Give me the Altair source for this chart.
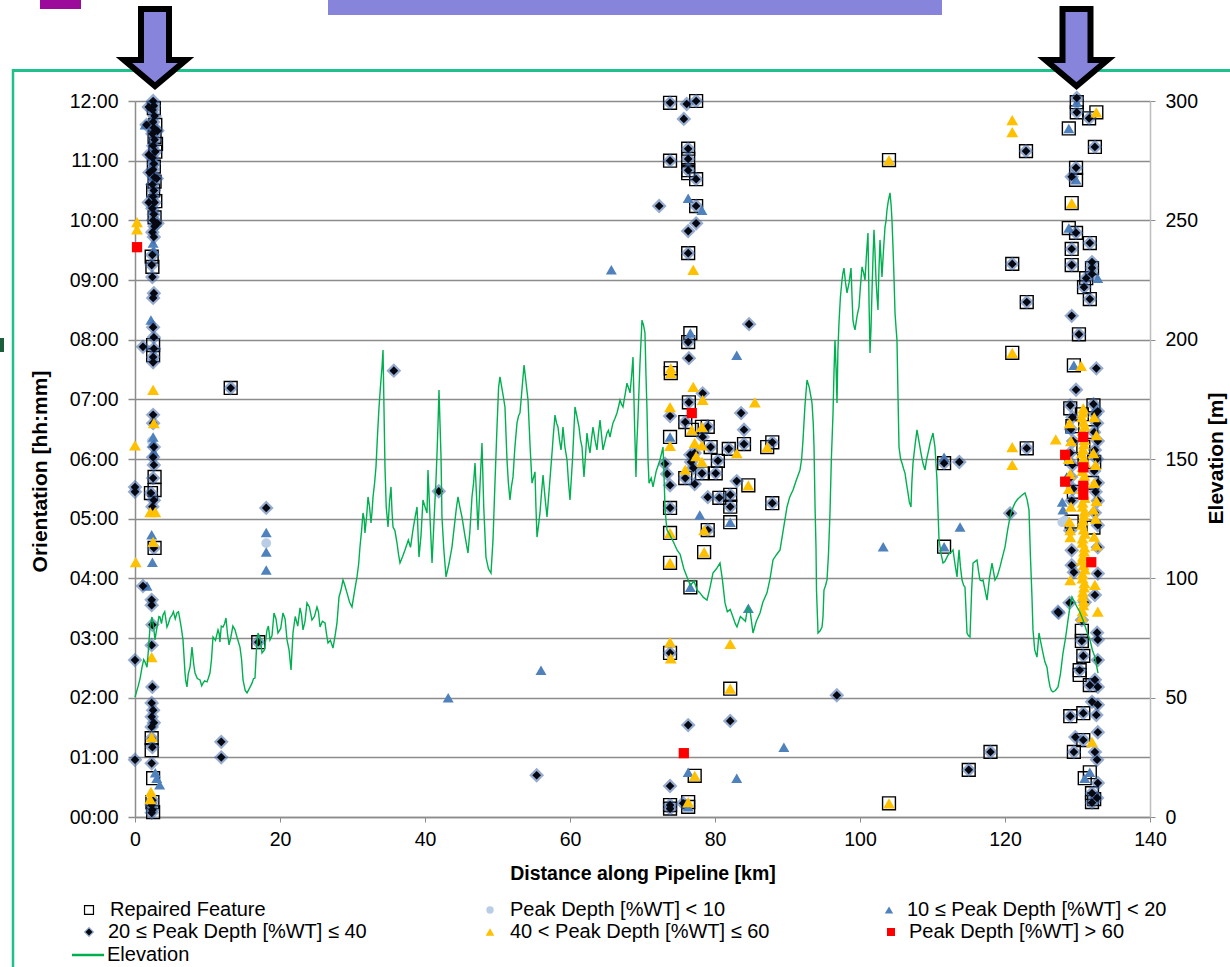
import altair as alt
import pandas as pd

FONT = "Liberation Sans"

# ---------------- data ----------------
# elevation profile, main trace (km, m)
elev_km = [
    0.0, 0.41, 0.97, 1.38, 1.66, 2.07, 2.34, 2.76, 3.17, 3.45,
    3.86, 4.41, 4.83, 5.10, 5.79, 6.21, 6.62, 6.90, 7.17, 7.59,
    7.86, 8.28, 8.97, 9.38, 9.93, 10.34, 10.76, 11.45, 11.72, 12.14,
    12.55, 12.97, 13.79, 14.48, 14.90, 15.45, 16.14, 16.55, 16.97, 17.52,
    18.21, 18.62, 19.17, 19.72, 20.41, 20.97, 21.52, 21.79, 22.76, 23.17,
    23.72, 24.41, 25.10, 25.52, 26.21, 26.62, 27.31, 27.86, 28.14, 28.69,
    29.24, 29.93, 30.62, 31.03, 31.45, 31.72, 32.14, 32.55, 32.83, 33.24,
    33.66, 34.07, 34.21, 34.48, 34.90, 35.31, 35.59, 36.14, 36.55, 37.24,
    38.34, 38.90, 39.17, 39.72, 40.28, 40.41, 40.97, 41.38, 41.66, 41.93,
    42.21, 42.34, 42.90, 43.72, 44.14, 44.55, 45.10, 45.93, 46.48, 46.90,
    47.31, 47.86, 48.41, 49.10, 49.38, 49.93, 50.34, 51.03, 51.31, 51.72,
    52.14, 52.69, 53.10, 53.66, 54.21, 54.76, 55.17, 55.45, 55.86, 56.28,
    56.83, 57.52, 57.93, 58.34, 58.76, 59.03, 59.59, 60.00, 60.69, 61.24,
    61.66, 61.93, 62.34, 62.76, 63.17, 63.72, 64.14, 64.55, 65.10, 65.52,
    65.93, 66.48, 66.90, 67.31, 67.86, 68.28, 68.69, 69.10, 69.38, 69.93,
    70.34, 70.62, 70.90, 71.45, 72.41, 72.83, 73.10, 73.38, 74.76, 76.14,
    77.52, 78.90, 79.72, 80.69, 81.38, 82.48, 83.03, 84.83, 85.24, 86.21,
    87.17, 88.00, 88.97, 89.93, 90.76, 91.72, 92.14, 92.69, 93.38, 93.66,
    93.93, 94.21, 94.76, 95.03, 95.45, 95.86, 96.28, 96.55, 96.83, 97.10,
    97.52, 97.79, 98.21, 98.76, 99.03, 99.31, 99.86, 100.28, 100.69, 101.10,
    101.38, 101.66, 101.93, 102.21, 102.48, 102.76, 103.03, 103.45, 103.72, 104.14,
    104.41, 104.55, 104.83, 105.10, 105.38, 105.79, 106.21, 106.62, 107.03, 107.31,
    107.86, 108.41, 108.97, 109.38, 110.07, 110.34, 110.62, 110.90, 111.45, 112.00,
    112.41, 112.83, 113.38, 113.66, 114.07, 114.48, 114.76, 115.17, 115.59, 116.14,
    116.55, 116.97, 117.52, 118.21, 118.62, 119.31, 120.00, 120.69, 121.38, 122.07,
    122.76, 123.31, 123.72, 123.86, 124.41, 124.69, 125.24, 125.79, 126.21, 126.62,
    127.31, 128.00, 128.69, 129.24, 129.93, 130.76, 131.72, 132.41, 132.83,
]
elev_m = [
    50.3, 54.5, 62.8, 64.9, 62.8, 79.6, 83.8, 74.2, 81.7, 83.8,
    84.6, 79.6, 83.4, 84.6, 85.5, 82.5, 74.2, 60.3, 54.5, 62.8,
    71.2, 60.3, 57.4, 56.1, 56.6, 60.3, 75.4, 78.4, 73.3, 79.6,
    83.4, 72.1, 78.4, 71.2, 57.4, 52.0, 56.1, 58.2, 77.1, 68.7,
    78.4, 74.2, 85.5, 77.1, 85.5, 74.2, 61.6, 77.1, 87.6, 78.4,
    89.7, 82.5, 88.0, 79.6, 81.3, 72.9, 70.8, 81.3, 92.2, 99.3,
    93.9, 88.0, 100.6, 113.1, 127.4, 119.0, 134.1, 123.2, 134.1, 146.7,
    171.8, 188.6, 195.7, 146.7, 121.5, 138.3, 121.5, 114.8, 106.4, 111.9,
    120.3, 129.9, 108.9, 132.8, 127.4, 145.4, 106.4, 132.8, 152.5, 178.9,
    150.8, 125.7, 100.6, 113.1, 124.4, 134.1, 125.7, 110.6, 134.1, 148.3,
    120.3, 156.7, 108.9, 102.2, 116.1, 163.4, 184.4, 171.8, 149.6, 132.8,
    142.5, 165.1, 169.3, 189.4, 174.7, 139.9, 144.6, 117.3, 127.4, 143.3,
    125.7, 152.5, 168.4, 163.4, 153.8, 163.4, 149.6, 132.8, 171.8, 163.4,
    155.0, 142.5, 160.9, 152.5, 163.4, 153.8, 166.3, 153.8, 160.9, 159.2,
    165.1, 169.3, 174.7, 171.8, 181.8, 177.7, 192.7, 142.5, 167.6, 208.2,
    202.8, 170.5, 139.9, 138.3, 149.6, 155.0, 129.9, 120.3, 111.9, 100.6,
    95.1, 90.9, 102.2, 106.4, 89.7, 83.8, 79.6, 86.7, 77.1, 85.5,
    93.9, 107.7, 111.9, 129.9, 137.0, 145.4, 158.0, 183.1, 173.5, 155.0,
    113.1, 77.1, 79.6, 95.1, 99.3, 127.4, 169.3, 199.9, 173.5, 207.0,
    225.0, 230.0, 219.6, 230.0, 208.2, 204.1, 213.7, 230.5, 225.0, 244.7,
    194.4, 220.8, 246.0, 225.0, 212.4, 241.8, 226.3, 247.2, 254.3, 261.5,
    250.1, 238.8, 211.2, 199.9, 155.0, 148.3, 144.1, 135.8, 129.9, 148.3,
    162.2, 152.5, 145.4, 152.5, 160.9, 155.0, 141.2, 116.1, 106.4, 108.9,
    110.6, 111.9, 100.6, 111.9, 99.3, 96.4, 77.1, 75.4, 106.4, 107.7,
    99.3, 99.3, 90.9, 106.4, 99.3, 104.8, 113.1, 125.7, 131.6, 134.1,
    135.8, 128.6, 92.2, 78.4, 67.0, 77.1, 68.7, 62.8, 54.5, 52.4,
    54.5, 68.7, 82.5, 92.2, 88.0, 82.5, 74.2, 67.0, 60.3,
]
# extra short-wavelength wiggles read between the main trace points (km, m)
elev_detail = [
    (0.7, 58), (1.2, 66), (1.85, 70), (2.55, 80), (2.95, 78), (3.3, 84), (3.65, 81), (4.1, 86),
    (4.6, 81), (5.3, 86), (5.55, 83), (6.0, 86), (6.4, 79), (7.0, 57), (7.35, 60), (7.7, 66),
    (8.1, 64), (8.6, 58), (9.2, 55), (9.6, 57), (10.1, 58), (10.55, 66), (11.1, 74), (11.6, 77),
    (11.9, 80), (12.35, 81), (12.75, 77), (13.2, 75), (13.5, 80), (14.1, 75), (14.7, 66),
    (15.2, 53), (15.8, 54), (16.35, 58), (16.75, 70), (17.25, 75), (17.85, 70), (18.4, 80),
    (18.9, 76), (19.45, 83), (20.1, 79), (20.7, 83), (21.25, 70), (22.1, 84), (22.45, 80),
    (22.95, 85), (23.45, 82), (24.05, 88), (24.75, 84), (25.3, 86), (25.85, 82), (26.4, 77),
    (26.95, 74), (27.6, 76), (28.4, 95), (28.95, 97), (29.6, 90), (30.3, 95), (30.85, 106),
    (31.25, 120), (31.6, 125), (31.95, 126), (32.35, 130), (32.7, 128), (33.05, 140),
    (33.45, 160), (33.85, 180), (34.35, 170), (34.65, 130), (35.1, 132), (35.45, 128),
    (35.85, 120), (36.35, 110), (36.9, 109), (37.7, 116), (38.0, 113), (38.6, 125), (39.45, 118),
    (40.0, 130), (40.7, 125), (41.15, 118), (41.5, 140), (41.8, 165), (42.6, 112), (43.3, 106),
    (43.9, 118), (44.35, 130), (44.8, 130), (45.5, 118), (46.2, 120), (46.7, 140), (47.1, 135),
    (47.6, 140), (48.1, 130), (48.75, 104), (49.65, 140), (50.15, 180), (50.7, 178), (51.5, 140),
    (51.9, 138), (52.4, 155), (52.9, 168), (53.4, 180), (53.9, 183), (54.5, 155), (54.95, 142),
    (55.3, 130), (55.65, 122), (56.05, 135), (56.55, 134), (57.2, 140), (57.7, 160), (58.15, 165),
    (58.55, 158), (58.9, 158), (59.3, 155), (59.8, 140), (60.35, 150), (60.95, 168), (61.45, 158),
    (61.8, 148), (62.15, 152), (62.55, 156), (62.95, 158), (63.45, 158), (63.9, 160), (64.35, 160),
    (64.8, 157), (65.3, 162), (65.7, 162), (66.2, 167), (66.7, 172), (67.1, 173), (67.6, 177),
    (68.05, 180), (68.5, 185), (68.9, 165), (69.2, 155), (69.65, 190), (70.15, 206), (70.48, 185),
    (70.76, 150), (71.2, 142), (71.9, 145), (72.6, 152), (72.95, 145), (73.25, 124), (73.8, 118),
    (74.3, 115), (75.2, 110), (75.7, 104), (76.6, 97), (77.1, 99), (77.9, 94), (78.4, 92),
    (79.3, 96), (80.2, 104), (81.0, 100), (81.7, 86), (82.1, 87), (82.8, 81), (83.5, 84),
    (84.2, 82), (84.5, 88), (85.7, 82), (86.6, 90), (87.6, 100), (88.5, 110), (89.4, 120),
    (90.3, 134), (91.2, 141), (91.95, 150), (92.4, 172), (93.0, 180), (93.55, 165), (93.8, 130),
    (94.0, 95), (94.5, 78), (94.9, 84), (95.25, 97), (95.65, 110), (96.05, 150), (96.4, 185),
    (96.7, 188), (96.95, 195), (97.3, 218), (97.65, 228), (98.0, 224), (98.5, 224), (98.9, 218),
    (99.15, 206), (99.6, 210), (100.05, 222), (100.5, 228), (100.9, 236), (101.25, 215),
    (101.52, 205), (101.8, 235), (102.05, 238), (102.35, 218), (102.6, 228), (102.9, 234),
    (103.25, 238), (103.6, 250), (103.9, 258), (104.3, 256), (104.7, 225), (104.97, 205),
    (105.25, 175), (105.6, 150), (106.0, 146), (106.4, 140), (106.8, 132), (107.15, 140),
    (107.6, 156), (108.1, 158), (108.7, 148), (109.2, 150), (109.7, 157), (110.2, 158),
    (110.48, 148), (110.76, 128), (111.2, 110), (111.7, 107), (112.2, 110), (112.6, 111),
    (113.1, 106), (113.5, 106), (113.85, 105), (114.3, 97), (114.62, 87), (114.95, 76),
    (115.4, 95), (115.85, 107), (116.35, 103), (116.75, 99), (117.25, 95), (117.85, 100),
    (118.4, 103), (118.95, 101), (119.65, 109), (120.35, 120), (121.0, 129), (121.7, 133),
    (122.4, 135), (123.05, 133), (123.5, 110), (124.1, 70), (124.55, 72), (124.95, 73),
    (125.5, 65), (126.0, 58), (126.4, 53), (126.95, 53), (127.65, 60), (128.35, 75),
    (128.95, 88), (129.6, 90), (130.3, 86), (131.25, 78), (132.05, 70), (132.65, 63),
]
assert len(elev_km) == len(elev_m)

# (distance km, orientation in decimal hours)
repaired = [
    (2.6, 11.88), (2.8, 11.6), (2.7, 11.4), (2.9, 11.28), (2.8, 11.15), (2.6, 10.9), (2.7, 10.65),
    (2.5, 10.5), (2.8, 10.32), (2.7, 10.05), (2.3, 9.39), (2.4, 9.22), (2.5, 7.91), (2.5, 7.74),
    (2.7, 5.7), (2.7, 5.48), (2.2, 5.43), (2.7, 4.51), (2.3, 1.32), (2.3, 1.12), (2.5, 0.65),
    (2.4, 0.25), (2.5, 0.08),
    (13.2, 7.19), (17.0, 2.93),
    (73.8, 11.97), (77.4, 12.0), (76.3, 11.2), (73.8, 11.0), (76.3, 11.03), (76.3, 10.84),
    (76.3, 10.79), (77.4, 10.69), (77.4, 10.24), (76.3, 9.45), (76.6, 8.11), (76.3, 7.96),
    (73.9, 7.52), (73.9, 7.44), (76.4, 6.95), (75.9, 6.62), (76.8, 6.49), (78.2, 6.54),
    (79.0, 6.54), (73.8, 6.37), (79.4, 6.2), (81.9, 6.17), (84.0, 6.25), (87.2, 6.2),
    (87.9, 6.28), (80.4, 5.97), (75.9, 5.68), (78.2, 5.76), (80.1, 5.76), (84.6, 5.56),
    (80.6, 5.35), (82.1, 5.4), (82.1, 5.2), (87.9, 5.26), (73.8, 5.18), (82.1, 4.94),
    (73.8, 4.76), (79.0, 4.81), (78.5, 4.44), (73.8, 4.26), (76.6, 3.85), (73.8, 2.75),
    (82.1, 2.15), (77.2, 0.69), (73.8, 0.2), (73.8, 0.14), (76.3, 0.25), (76.3, 0.17),
    (104.0, 11.01), (104.0, 0.23), (111.6, 5.93), (111.6, 4.53), (121.0, 9.27), (123.0, 8.63),
    (121.0, 7.78), (123.0, 6.18), (122.9, 11.16), (115.0, 0.79), (118.0, 1.09),
    (129.9, 11.98), (132.6, 11.81), (129.9, 11.81), (131.6, 11.71), (128.8, 11.54), (132.4, 11.23),
    (129.8, 10.88), (129.8, 10.68), (129.2, 10.29), (128.8, 9.87), (129.8, 9.79), (131.7, 9.62),
    (129.2, 9.52), (129.2, 9.25), (132.0, 9.2), (131.2, 9.03), (130.9, 8.88), (131.7, 8.68),
    (130.2, 8.09), (129.5, 7.57), (129.0, 6.85), (132.2, 6.9), (130.6, 6.75), (129.3, 6.55),
    (131.9, 6.45), (130.8, 6.2), (129.2, 6.0), (132.3, 5.95), (129.5, 5.45), (132.0, 5.6),
    (129.2, 4.95), (132.2, 4.85), (130.6, 3.12), (130.6, 2.95), (130.8, 2.7), (130.3, 2.46),
    (130.3, 2.38), (131.7, 2.21), (130.8, 1.74), (129.0, 1.69), (130.8, 1.29), (129.5, 1.09),
    (131.7, 0.75), (131.0, 0.65), (132.0, 0.4), (132.0, 0.25), (132.3, 0.3),
]

depth_lt10 = [(2.3, 6.3), (2.5, 10.95), (18.1, 4.59), (127.9, 4.94), (128.3, 4.97)]

depth_10_20 = [
    (1.4, 11.6), (2.6, 11.0), (2.5, 10.73), (2.6, 10.17), (2.5, 9.62), (2.6, 9.5), (2.2, 8.33),
    (2.5, 6.37), (2.5, 6.27), (2.6, 6.12), (2.3, 4.73), (2.4, 4.27), (1.66, 3.87), (2.8, 0.74),
    (3.0, 0.65), (3.4, 0.54),
    (18.1, 4.77), (18.1, 4.44), (18.1, 4.14), (43.2, 2.0), (56.0, 2.46), (65.7, 9.17),
    (76.3, 10.37), (78.2, 10.17), (76.6, 8.11), (83.0, 7.74), (73.8, 6.37), (77.9, 5.06),
    (82.1, 4.94), (76.6, 3.85), (84.6, 3.5), (89.5, 1.17), (76.3, 0.75), (83.0, 0.65), (76.3, 0.17),
    (103.2, 4.53), (111.6, 6.03), (113.8, 4.86), (111.6, 4.53),
    (129.9, 11.98), (128.8, 11.54), (129.8, 10.68), (128.8, 9.87), (132.8, 9.03), (129.5, 7.57),
    (127.9, 5.28), (128.0, 5.15), (131.7, 0.75), (131.0, 0.65), (129.0, 6.5), (128.5, 5.7),
]

depth_20_40 = [
    (2.5, 12.0), (2.6, 11.92), (2.4, 11.85), (2.7, 11.75), (2.5, 11.65), (1.6, 11.6), (2.6, 11.55),
    (2.4, 11.45), (2.7, 11.35), (2.5, 11.25), (2.8, 11.15), (2.4, 11.05), (2.6, 10.95), (2.5, 10.85),
    (2.7, 10.72), (2.4, 10.6), (2.6, 10.5), (2.5, 10.4), (2.7, 10.3), (2.4, 10.2), (2.6, 10.1),
    (2.5, 10.0), (2.7, 9.9), (2.4, 9.8), (2.6, 9.72),
    (1.9, 11.9), (3.1, 11.5), (1.9, 11.1), (3.0, 10.7), (1.9, 10.3), (3.1, 9.95), (2.0, 10.8),
    (2.4, 9.42), (2.3, 9.25), (2.4, 9.05), (2.6, 8.78), (2.5, 8.7), (2.5, 8.21), (2.6, 8.04),
    (2.6, 7.85), (1.1, 7.88), (2.5, 7.71), (2.5, 7.62), (2.5, 6.74), (2.5, 6.6), (2.6, 6.2),
    (2.5, 6.03), (2.6, 5.9), (2.5, 5.68), (2.6, 5.31), (2.2, 5.43), (2.4, 5.2), (2.6, 4.51),
    (2.3, 3.64), (2.3, 3.55), (2.4, 3.22), (2.3, 2.88), (2.4, 2.18), (2.3, 1.91), (2.5, 1.79),
    (2.3, 1.68), (2.6, 1.58), (2.3, 1.51), (2.3, 1.32), (2.4, 1.17), (2.3, 0.9), (2.4, 0.28),
    (2.3, 0.2), (2.4, 0.12), (2.3, 0.07), (0.0, 5.53), (0.0, 5.45), (0.0, 2.63), (0.0, 0.96),
    (1.1, 3.87),
    (13.2, 7.19), (11.9, 1.26), (11.9, 1.0), (17.0, 2.93), (18.1, 5.18), (35.7, 7.48),
    (41.9, 5.46), (55.4, 0.7),
    (73.8, 11.97), (76.1, 11.95), (77.4, 12.0), (75.7, 11.7), (76.3, 11.2), (73.8, 11.0),
    (76.3, 11.03), (76.3, 10.84), (77.4, 10.69), (72.3, 10.24), (77.4, 10.24), (77.4, 9.95),
    (76.3, 9.82), (76.3, 9.45), (84.7, 8.26), (76.3, 7.96), (76.4, 7.69), (78.3, 7.1),
    (76.4, 6.95), (73.8, 6.72), (75.9, 6.62), (83.6, 6.77), (84.0, 6.49), (79.0, 6.54),
    (78.3, 6.37), (79.4, 6.2), (81.9, 6.17), (84.0, 6.25), (87.9, 6.28), (73.1, 5.92),
    (80.4, 5.97), (73.4, 5.75), (73.8, 5.56), (76.6, 6.07), (76.7, 5.95), (77.2, 6.1),
    (77.0, 5.85), (75.9, 5.68), (78.2, 5.76), (77.2, 5.58), (80.1, 5.76), (83.0, 5.63),
    (79.0, 5.36), (80.6, 5.35), (82.1, 5.4), (82.1, 5.2), (87.9, 5.26), (73.8, 5.18),
    (79.0, 4.81), (73.8, 2.75), (76.3, 1.54), (82.1, 1.61), (73.8, 0.52), (73.8, 0.2),
    (73.8, 0.14), (75.6, 0.23), (96.8, 2.04),
    (111.6, 5.93), (113.7, 5.95), (121.0, 9.27), (123.0, 8.63), (123.0, 6.18), (120.7, 5.09),
    (122.9, 11.16), (115.0, 0.79), (118.0, 1.09), (127.3, 3.44),
    (129.9, 12.05), (129.9, 11.81), (131.6, 11.71), (132.4, 11.23), (129.8, 10.88), (129.2, 10.73),
    (129.8, 9.79), (131.7, 9.62), (129.2, 9.52), (129.2, 9.25), (132.0, 9.3), (132.0, 9.2),
    (132.0, 9.1), (131.2, 9.03), (130.9, 8.88), (131.7, 8.68), (129.2, 8.4), (130.2, 8.09),
    (132.6, 7.52), (129.8, 7.16),
    (129.0, 6.9), (129.3, 6.7), (129.1, 6.5), (129.4, 6.3), (129.0, 6.1), (129.3, 5.9),
    (129.1, 5.7), (129.4, 5.5), (129.2, 5.3), (129.0, 4.8), (129.2, 4.47), (129.2, 4.22),
    (128.9, 3.59), (127.4, 3.42), (129.5, 4.1),
    (132.2, 6.92), (132.8, 6.8), (132.4, 6.75), (132.7, 6.6), (132.3, 6.45), (132.8, 6.3),
    (132.4, 6.15), (132.7, 6.0), (132.3, 5.8), (132.8, 5.6), (132.5, 5.45), (132.8, 5.3),
    (132.4, 5.1), (132.8, 4.89), (132.8, 4.52), (132.8, 4.08), (132.4, 3.72), (132.7, 3.09),
    (132.8, 2.97), (132.8, 2.63), (132.4, 2.3), (132.8, 2.18), (132.0, 1.93), (132.8, 1.88),
    (132.6, 1.71), (132.8, 1.42), (132.4, 1.09), (132.7, 0.96), (132.8, 0.57), (132.0, 0.4),
    (132.7, 0.32), (132.0, 0.24),
    (130.6, 2.95), (130.8, 2.7), (130.3, 2.46), (131.7, 2.21), (130.8, 1.74), (129.0, 1.69),
    (129.7, 1.34), (130.8, 1.29), (129.5, 1.09), (130.6, 3.3), (131.0, 3.6),
]

depth_40_60 = [
    (0.28, 9.97), (0.28, 9.85), (0.0, 6.23), (0.1, 4.27), (2.5, 7.16), (2.6, 6.6), (2.1, 5.11),
    (2.8, 5.11), (2.5, 4.61), (2.3, 2.68), (2.3, 1.34), (2.2, 0.42), (2.1, 0.3),
    (77.0, 9.17), (73.9, 7.52), (73.9, 7.44), (77.0, 7.21), (73.8, 6.87), (78.3, 6.99),
    (85.5, 6.95), (76.8, 6.49), (78.2, 6.54), (73.8, 6.22), (77.2, 6.27), (78.2, 6.23),
    (83.0, 6.1), (87.2, 6.2), (75.9, 5.82), (78.2, 5.95), (84.6, 5.56), (73.8, 4.76),
    (78.5, 4.81), (78.5, 4.44), (73.8, 4.26), (73.8, 2.93), (73.9, 2.66), (82.1, 2.9),
    (82.1, 2.15), (77.2, 0.69), (76.3, 0.25), (77.4, 6.05),
    (104.0, 11.01), (104.0, 0.23), (121.0, 7.78), (121.0, 6.2), (121.0, 5.9), (121.0, 11.68),
    (121.0, 11.48), (127.0, 6.33),
    (132.6, 11.81), (129.2, 10.29), (130.5, 7.56),
    (130.8, 6.85), (130.6, 6.7), (131.0, 6.55), (130.7, 6.4), (130.9, 6.25), (130.6, 6.1),
    (131.0, 5.95), (130.7, 5.8), (130.9, 5.65), (130.6, 5.5), (131.0, 5.35), (130.7, 5.2),
    (130.9, 5.05), (130.6, 4.9), (131.0, 4.75), (130.7, 4.6), (130.9, 4.45), (130.6, 4.3),
    (131.0, 4.15), (130.7, 4.0), (130.9, 3.85), (130.7, 3.7), (130.8, 3.55), (130.6, 3.35),
    (130.75, 6.78), (130.85, 6.62), (130.7, 6.47), (130.95, 6.32), (130.75, 6.17), (130.85, 6.02),
    (130.7, 5.87), (130.95, 5.72), (130.75, 5.57), (130.85, 5.42), (130.7, 5.27), (130.95, 5.12),
    (130.75, 4.97), (130.85, 4.82), (130.7, 4.67), (130.95, 4.52), (130.75, 4.37), (130.85, 4.22),
    (130.7, 4.07), (130.95, 3.92), (130.75, 3.77), (130.85, 3.62), (130.7, 3.45),
    (132.3, 6.7), (132.6, 6.4), (132.2, 6.1), (132.5, 5.9), (132.3, 5.6), (132.6, 5.3),
    (132.2, 5.15), (132.5, 5.0), (132.3, 4.7), (132.6, 4.55), (132.4, 3.89), (132.8, 3.44),
    (128.9, 6.6), (129.1, 6.3), (128.8, 6.0), (129.0, 5.75), (128.8, 5.5), (129.1, 5.2),
    (128.9, 4.95), (129.0, 4.81), (129.0, 4.69), (129.0, 3.97), (132.0, 1.26),
]

depth_gt60 = [
    (0.28, 9.55), (76.8, 6.77), (75.7, 1.07), (128.3, 6.07), (128.3, 5.62), (130.8, 6.37),
    (130.8, 5.86), (130.8, 5.4), (131.9, 4.27), (130.8, 5.55),
]

x_ticks = [0, 20, 40, 60, 80, 100, 120, 140]
orient_ticks = list(range(0, 13))
elev_ticks = [0, 50, 100, 150, 200, 250, 300]

legend_labels = [
    "Repaired Feature", "Peak Depth [%WT] < 10", "10 \u2264 Peak Depth [%WT] < 20",
    "20 \u2264 Peak Depth [%WT] \u2264 40", "40 < Peak Depth [%WT] \u2264 60",
    "Peak Depth [%WT] > 60", "Elevation",
]

# ---------------- layout ----------------
L, T, W, H = 135, 101, 1015, 716
TOTAL_W, TOTAL_H = 1230, 967
GRID = "#8c8c8c"
PURPLE = "#8784DC"


def pts(p):
    return pd.DataFrame(p, columns=["km", "h"])


x_axis = alt.Axis(
    values=x_ticks, grid=False, tickSize=5, tickColor=GRID, domainColor=GRID, domainWidth=1.5,
    labelFont=FONT, labelFontSize=19.5, labelColor="black", labelPadding=8, labelFlush=False,
    title="Distance along Pipeline [km]", titleFont=FONT, titleFontSize=19.5,
    titleFontWeight="bold", titleColor="black", titleY=56, titleBaseline="middle",
)
X = alt.X("km:Q", scale=alt.Scale(domain=[0, 140], nice=False, zero=False), axis=x_axis)

orient_axis = alt.Axis(
    orient="left", values=orient_ticks,
    labelExpr="(datum.value < 10 ? '0' : '') + datum.value + ':00'",
    grid=True, gridColor=GRID, gridWidth=1.5, tickSize=7, tickColor=GRID, tickWidth=1.5,
    domainColor=GRID, domainWidth=1.5, labelFlush=False,
    labelFont=FONT, labelFontSize=19.5, labelColor="black", labelPadding=10,
    title="Orientation [hh:mm]", titleFont=FONT, titleFontSize=21, titleFontWeight="bold",
    titleColor="black", titleAngle=270, titleX=-95, titleY=370, titleBaseline="middle",
    titleAlign="center",
)
Y = alt.Y("h:Q", scale=alt.Scale(domain=[0, 12], nice=False, zero=False), axis=orient_axis)

elev_axis = alt.Axis(
    orient="right", values=elev_ticks, grid=False, tickSize=5, tickColor=GRID,
    domainColor="#bdbdbd", domainWidth=1.5, labelFlush=False,
    labelFont=FONT, labelFontSize=19.5, labelColor="black", labelPadding=10,
    title="Elevation [m]", titleFont=FONT, titleFontSize=21, titleFontWeight="bold",
    titleColor="black", titleAngle=270, titleX=66, titleY=357, titleBaseline="middle",
    titleAlign="center",
)

one = alt.Data(values=[{"a": 1}])

# ---------------- point layers ----------------
sq = alt.Chart(pts(repaired)).mark_point(
    shape="square", filled=False, color="black", strokeWidth=1.4, size=165, opacity=1
).encode(x=X, y=Y)
circ = alt.Chart(pts(depth_lt10)).mark_point(
    shape="circle", filled=True, color="#B9CDE5", size=95, opacity=1
).encode(x=X, y=Y)
btri = alt.Chart(pts(depth_10_20)).mark_point(
    shape="triangle-up", filled=True, color="#4F81BD", size=120, opacity=1
).encode(x=X, y=Y)
halo = alt.Chart(pts(depth_20_40)).mark_point(
    shape="diamond", filled=True, color="#3F66A6", size=220, opacity=0.55
).encode(x=X, y=Y)
dia = alt.Chart(pts(depth_20_40)).mark_point(
    shape="diamond", filled=True, color="#060812", size=75, opacity=1
).encode(x=X, y=Y)
ytri = alt.Chart(pts(depth_40_60)).mark_point(
    shape="triangle-up", filled=True, color="#FFC000", size=140, opacity=1
).encode(x=X, y=Y)
red = alt.Chart(pts(depth_gt60)).mark_point(
    shape="square", filled=True, color="#FF0000", size=105, opacity=1
).encode(x=X, y=Y)

points = alt.layer(sq, circ, btri, halo, dia, ytri, red)

elev_rows = sorted(list(zip(elev_km, elev_m)) + elev_detail)
elev_df = pd.DataFrame(elev_rows, columns=["km", "elev"])
line = alt.Chart(elev_df).mark_line(color="#00B050", strokeWidth=1.4).encode(
    x=X,
    y=alt.Y("elev:Q", scale=alt.Scale(domain=[0, 300], nice=False, zero=False), axis=elev_axis),
    order=alt.Order("km:Q"),
)

# ---------------- decorations (slide frame) ----------------
decor = []
decor.append(alt.Chart(one).mark_rect(color=PURPLE).encode(
    x=alt.value(328 - L), x2=alt.value(942 - L), y=alt.value(0 - T), y2=alt.value(15 - T)))
decor.append(alt.Chart(one).mark_rect(color="#9B0A9B").encode(
    x=alt.value(40 - L), x2=alt.value(81 - L), y=alt.value(0 - T), y2=alt.value(9 - T)))
decor.append(alt.Chart(one).mark_rule(color="#1EC08C", strokeWidth=3).encode(
    x=alt.value(12 - L), x2=alt.value(TOTAL_W - L), y=alt.value(70.5 - T)))
decor.append(alt.Chart(one).mark_rule(color="#1EC08C", strokeWidth=2.5).encode(
    x=alt.value(13 - L), y=alt.value(69 - T), y2=alt.value(TOTAL_H - T)))
decor.append(alt.Chart(one).mark_rect(color="#1B5E3B").encode(
    x=alt.value(0 - L), x2=alt.value(4 - L), y=alt.value(338 - T), y2=alt.value(352 - T)))

ARROW = "M -0.35 -1 L 0.35 -1 L 0.35 0.275 L 0.775 0.275 L 0 0.925 L -0.775 0.275 L -0.35 0.275 Z"
for cx in (155, 1076.5):
    decor.append(alt.Chart(one).mark_point(
        shape=ARROW, size=6400, filled=True, fill=PURPLE, stroke="black", strokeWidth=6,
        strokeJoin="miter", opacity=1
    ).encode(x=alt.value(cx - L), y=alt.value(49 - T)))

# ---------------- manual legend ----------------
leg_sym_x = [89, 490, 889, 89, 490, 891]
leg_txt_x = [110, 510, 907, 108, 510, 909, 107]
leg_y = [910, 910, 910, 932, 932, 932, 955]
legend = []
sym_styles = [
    dict(shape="square", filled=False, color="black", strokeWidth=1.2, size=80),
    dict(shape="circle", filled=True, color="#B9CDE5", size=55),
    dict(shape="triangle-up", filled=True, color="#4F81BD", size=70),
    dict(shape="diamond", filled=True, color="#060812", size=50),
    dict(shape="triangle-up", filled=True, color="#FFC000", size=75),
    dict(shape="square", filled=True, color="#FF0000", size=65),
]
for i, st in enumerate(sym_styles):
    if i == 3:
        legend.append(alt.Chart(one).mark_point(
            shape="diamond", filled=True, color="#3F66A6", size=110, opacity=0.55
        ).encode(x=alt.value(leg_sym_x[i] - L), y=alt.value(leg_y[i] - T)))
    legend.append(alt.Chart(one).mark_point(opacity=1, **st).encode(
        x=alt.value(leg_sym_x[i] - L), y=alt.value(leg_y[i] - T)))
legend.append(alt.Chart(one).mark_rule(color="#00B050", strokeWidth=2.5).encode(
    x=alt.value(72 - L), x2=alt.value(104 - L), y=alt.value(leg_y[6] - T)))
for i, lab in enumerate(legend_labels):
    legend.append(alt.Chart(one).mark_text(
        text=lab, align="left", baseline="middle", font=FONT, fontSize=20, color="black"
    ).encode(x=alt.value(leg_txt_x[i] - L), y=alt.value(leg_y[i] - T)))

chart = alt.layer(*decor, points, line, *legend).resolve_scale(y="independent").properties(
    width=W, height=H,
    padding={"left": L, "top": T, "right": TOTAL_W - L - W, "bottom": TOTAL_H - T - H},
    autosize=alt.AutoSizeParams(type="none"),
    background="white",
).configure_view(stroke=None)

chart.save("out.html", embed_options={"renderer": "svg", "actions": False})
